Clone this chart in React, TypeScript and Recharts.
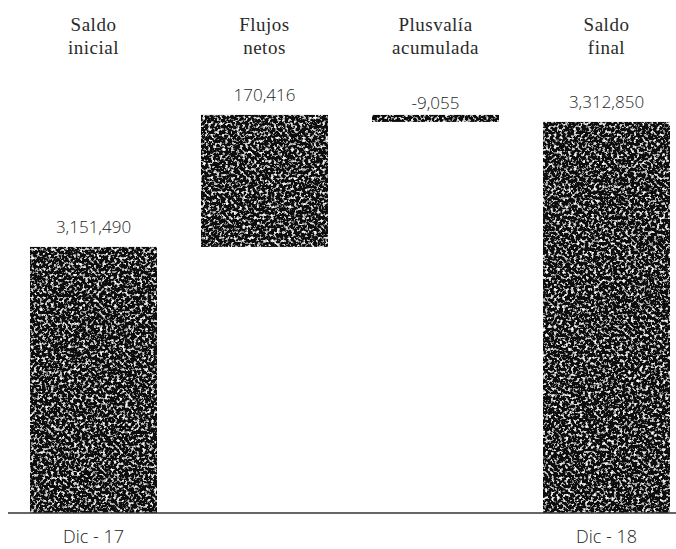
import React from "react";
import { BarChart, Bar, XAxis, YAxis, LabelList } from "recharts";

const categories = ["Saldo inicial", "Flujos netos", "Plusvalía acumulada", "Saldo final"];
const headerLines = [
  ["Saldo", "inicial"],
  ["Flujos", "netos"],
  ["Plusvalía", "acumulada"],
  ["Saldo", "final"],
];
const changes = [3151490, 170416, -9055, 3312850];
const isTotal = [true, false, false, true];
const periodLabels = ["Dic - 17", "", "", "Dic - 18"];

// build floating ranges for the waterfall
let running = 0;
const data = categories.map((name, i) => {
  let range: [number, number];
  if (isTotal[i]) {
    range = [0, changes[i]];
    running = changes[i];
  } else {
    const end = running + changes[i];
    range = [Math.min(running, end), Math.max(running, end)];
    running = end;
  }
  return { name, range, value: changes[i] };
});

const HeaderTick = (props: any) => {
  const { x, y, index } = props;
  const lines = headerLines[index] || [];
  return (
    <text
      x={x}
      y={y}
      textAnchor="middle"
      fill="#2a2a2a"
      style={{ fontFamily: "'Liberation Serif', 'DejaVu Serif', serif", fontSize: 19, fontWeight: 400, letterSpacing: 0.5 }}
    >
      <tspan x={x} dy={-29}>{lines[0]}</tspan>
      <tspan x={x} dy={23}>{lines[1]}</tspan>
    </text>
  );
};

const PeriodTick = (props: any) => {
  const { x, y, index } = props;
  return (
    <text
      x={x}
      y={y}
      dy={30}
      textAnchor="middle"
      fill="#222"
      style={{ fontFamily: "'Open Sans', 'Noto Sans', sans-serif", fontSize: 18, fontWeight: 300 }}
    >
      {periodLabels[index]}
    </text>
  );
};

const ValueLabel = (props: any) => {
  const { x, y, width, value } = props;
  const off = value < 0 ? 6 : 14;
  return (
    <text
      x={x + width / 2}
      y={y - off}
      textAnchor="middle"
      fill="#1e1e1e"
      style={{ fontFamily: "'Open Sans', 'Noto Sans', sans-serif", fontSize: 17, fontWeight: 300 }}
    >
      {Number(value).toLocaleString("en-US")}
    </text>
  );
};

const GrainBar = (props: any) => {
  const { x, y, width, height } = props;
  return <rect x={x} y={y} width={width} height={height} fill="#0e0e0e" filter="url(#grain)" />;
};

export default function App() {
  return (
    <div style={{ position: "absolute", left: 0, top: 0, width: 676, height: 549, overflow: "hidden", background: "#fff" }}>
      <BarChart
        width={692}
        height={549}
        data={data}
        margin={{ top: 0, right: 0, bottom: 0, left: 8 }}
        barCategoryGap={22}
      >
        <defs>
          <filter id="grain" x="0" y="0" width="100%" height="100%">
            <feTurbulence type="fractalNoise" baseFrequency="0.35" numOctaves="4" seed="7" result="noise" />
            <feColorMatrix
              in="noise"
              type="matrix"
              values="0 0 0 0 1  0 0 0 0 1  0 0 0 0 1  4 0 0 0 -2.1"
              result="spots"
            />
            <feComposite in="spots" in2="SourceGraphic" operator="in" result="clipped" />
            <feMerge>
              <feMergeNode in="SourceGraphic" />
              <feMergeNode in="clipped" />
            </feMerge>
          </filter>
        </defs>
        <XAxis
          xAxisId="top"
          orientation="top"
          dataKey="name"
          height={60}
          axisLine={false}
          tickLine={false}
          tickSize={0}
          tickMargin={0}
          interval={0}
          tick={<HeaderTick />}
        />
        <XAxis
          xAxisId="bottom"
          orientation="bottom"
          dataKey="name"
          height={36}
          axisLine={{ stroke: "#333", strokeWidth: 1.5 }}
          tickLine={false}
          tickSize={0}
          tickMargin={0}
          interval={0}
          tick={<PeriodTick />}
        />
        <YAxis hide domain={[2808000, 3392800]} allowDataOverflow />
        <Bar xAxisId="bottom" dataKey="range" shape={<GrainBar />} isAnimationActive={false}>
          <LabelList dataKey="value" content={<ValueLabel />} />
        </Bar>
      </BarChart>
    </div>
  );
}
